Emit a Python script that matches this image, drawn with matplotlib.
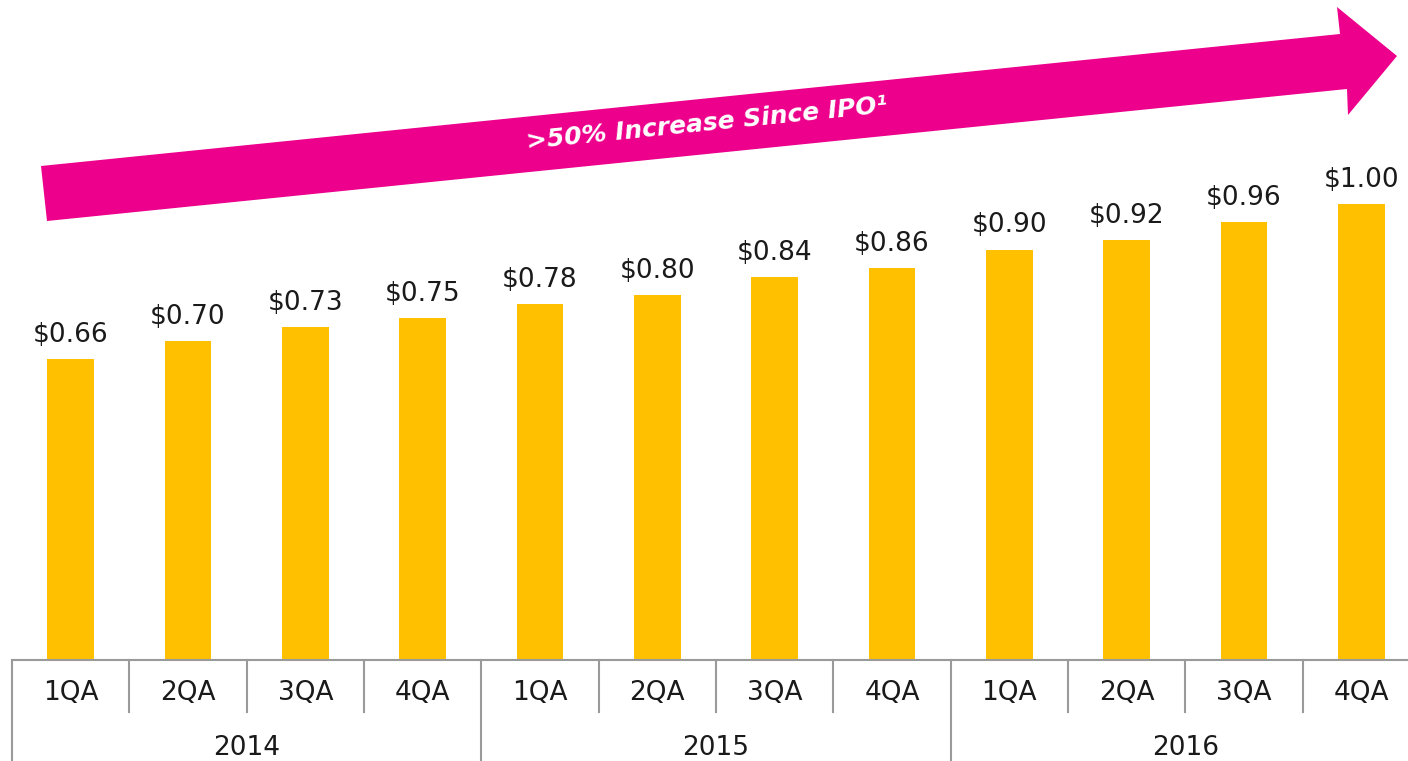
import matplotlib
matplotlib.use("Agg")
import matplotlib.pyplot as plt
from matplotlib.patches import Polygon

quarters = ["1QA", "2QA", "3QA", "4QA"] * 3
years = ["2014", "2015", "2016"]
values = [0.66, 0.70, 0.73, 0.75, 0.78, 0.80, 0.84, 0.86, 0.90, 0.92, 0.96, 1.00]
arrow_text = ">50% Increase Since IPO\u00b9"

BAR = "#FFC000"
PINK = "#EC008C"
GRID = "#9a9a9a"
TXT = "#1a1a1a"
W, H = 1408, 761

plt.rcParams["font.family"] = ["DejaVu Sans"]
fig = plt.figure(figsize=(W / 100, H / 100), dpi=100)
ax = fig.add_axes([12 / W, 101 / H, 1408 / W, 660 / H])
ax.set_xlim(-0.5, 11.5)
ax.set_ylim(0, 660 / 456)
ax.axis("off")

x = list(range(len(values)))
bars = ax.bar(x, values, width=0.4, color=BAR)
for xi, v in zip(x, values):
    ax.annotate(f"${v:.2f}", (xi, v), xytext=(0, 8), textcoords="offset points",
                ha="center", va="bottom", fontsize=19, color=TXT)

# category axis: baseline, separators and labels
ax.plot([-0.5, 11.5], [0, 0], color=GRID, lw=1.5, clip_on=False)
q_depth = -52 / 456
y_depth = -101 / 456
for i in range(len(values) + 1):
    bottom = y_depth if i % 4 == 0 else q_depth
    ax.plot([i - 0.5, i - 0.5], [0, bottom], color=GRID, lw=1.5, clip_on=False)
for xi, q in zip(x, quarters):
    ax.text(xi, -33 / 456, q, ha="center", va="center", fontsize=19, color=TXT)
for j, yr in enumerate(years):
    ax.text(j * 4 + 1.5, -88 / 456, yr, ha="center", va="center", fontsize=19, color=TXT)

# big pink arrow (pixel outline from the slide, y from top)
pts = [(47, 221), (41, 166), (1340, 34), (1337, 7), (1397, 56), (1348, 115), (1347, 89)]
arrow = Polygon([(px / W, 1 - py / H) for px, py in pts], closed=True,
                transform=fig.transFigure, facecolor=PINK, edgecolor="none")
fig.patches.append(arrow)
fig.text(707 / W, 1 - 124 / H, arrow_text, rotation=5.8, ha="center", va="center",
         fontsize=18, color="white", fontweight="bold", fontstyle="italic",
         rotation_mode="anchor")

fig.savefig("out.png", dpi=100)
